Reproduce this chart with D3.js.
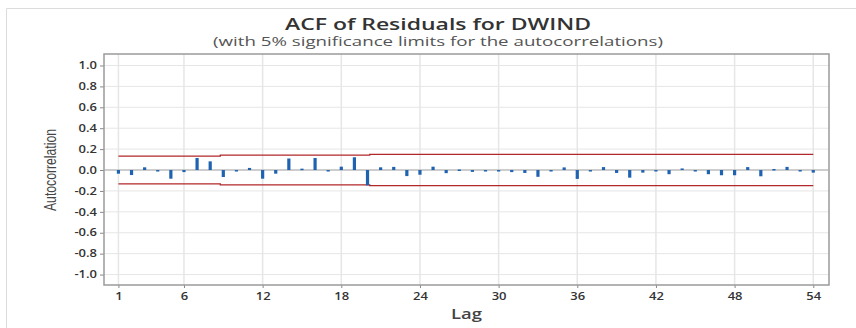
<!DOCTYPE html>
<html>
<head>
<meta charset="utf-8">
<script src="https://cdn.jsdelivr.net/npm/d3@7"></script>
<style>
  body { margin: 0; background: #fff; }
  svg { display: block; font-family: "Open Sans", sans-serif; }
</style>
</head>
<body>
<script>
// Chart size and plot area
const width = 856;
const height = 328;
const margin = { top: 54, right: 27, bottom: 43, left: 104 };

// Data: autocorrelation of residuals per lag
const lags = d3.range(1, 55);
const acf = [
  -0.035, -0.048, 0.026, -0.005, -0.083, -0.020, 0.115, 0.083, -0.067, 0.000,
  0.020, -0.083, -0.035, 0.110, 0.013, 0.115, -0.005, 0.032, 0.122, -0.147,
  0.026, 0.030, -0.058, -0.045, 0.032, -0.030, 0.005, -0.018, -0.012, -0.003,
  -0.020, -0.028, -0.065, -0.003, 0.025, -0.085, 0.000, 0.028, -0.028, -0.073,
  -0.025, -0.005, -0.040, 0.015, -0.010, -0.040, -0.050, -0.050, 0.028, -0.060,
  0.010, 0.030, -0.010, -0.025
];
// 5% significance limits (step segments: from lag, to lag, limit)
const limitFrom = [1, 8.77, 20.17];
const limitTo = [8.77, 20.17, 54];
const limitVal = [0.133, 0.142, 0.150];
const xTicks = [1, 6, 12, 18, 24, 30, 36, 42, 48, 54];
const yTicks = [-1.0, -0.8, -0.6, -0.4, -0.2, 0.0, 0.2, 0.4, 0.6, 0.8, 1.0];

const svg = d3.select("body").append("svg")
    .attr("width", width)
    .attr("height", height);

// Outer chart border
svg.append("path")
    .attr("d", `M6.5,${height} V8.5 H${width}`)
    .attr("fill", "none")
    .attr("stroke", "#dcdcdc");

// Scales
const x = d3.scaleLinear()
    .domain([-0.1, 55.2])
    .range([margin.left, width - margin.right]);
const y = d3.scaleLinear()
    .domain([-1.1, 1.11])
    .range([height - margin.bottom, margin.top]);

// Grid lines
svg.append("g").selectAll("line")
    .data(yTicks)
    .join("line")
    .attr("x1", margin.left).attr("x2", width - margin.right)
    .attr("y1", d => y(d)).attr("y2", d => y(d))
    .attr("stroke", "#e6e6e6");
svg.append("g").selectAll("line")
    .data(xTicks)
    .join("line")
    .attr("x1", d => x(d)).attr("x2", d => x(d))
    .attr("y1", margin.top).attr("y2", height - margin.bottom)
    .attr("stroke", "#e6e6e6")
    .attr("stroke-width", 1.5);

// Axes
const xAxis = d3.axisBottom(x).tickValues(xTicks).tickSize(3).tickPadding(5);
const yAxis = d3.axisLeft(y).tickValues(yTicks).tickSize(4).tickPadding(3)
    .tickFormat(d3.format(".1f"));

const gx = svg.append("g")
    .attr("transform", `translate(0,${height - margin.bottom})`)
    .call(xAxis)
    .call(g => g.select(".domain").remove());
const gy = svg.append("g")
    .attr("transform", `translate(${margin.left},0)`)
    .call(yAxis)
    .call(g => g.select(".domain").remove());

svg.selectAll(".tick text")
    .attr("font-family", "'Open Sans', sans-serif")
    .attr("font-size", 10)
    .attr("font-weight", 600)
    .attr("fill", "#333")
    .text(function(d) { return d3.select(this).text().replace("−", "-"); });
// the graph is stretched horizontally, so widen the tick labels too
gx.selectAll(".tick text").attr("transform", "scale(1.3,1)");
gy.selectAll(".tick text").attr("x", 0).attr("transform", "translate(-7,0) scale(1.3,1)");
svg.selectAll(".tick line").attr("stroke", "#888");

// Plot frame
svg.append("rect")
    .attr("x", margin.left)
    .attr("y", margin.top)
    .attr("width", width - margin.left - margin.right)
    .attr("height", height - margin.top - margin.bottom)
    .attr("fill", "none")
    .attr("stroke", "#9a9a9a")
    .attr("stroke-width", 1.5);

// Zero line
svg.append("line")
    .attr("x1", margin.left).attr("x2", width - margin.right)
    .attr("y1", y(0)).attr("y2", y(0))
    .attr("stroke", "#a8a8a8")
    .attr("stroke-width", 1.2);

// Significance limits
const limits = limitVal.map((v, i) => ({ from: limitFrom[i], to: limitTo[i], v }));
[1, -1].forEach(sign => {
  const pts = [];
  limits.forEach(s => {
    pts.push([s.from, sign * s.v]);
    pts.push([s.to, sign * s.v]);
  });
  svg.append("path")
      .attr("d", d3.line().x(d => x(d[0])).y(d => y(d[1]))(pts))
      .attr("fill", "none")
      .attr("stroke", "#b2282a")
      .attr("stroke-width", 1.3);
});

// ACF bars
svg.append("g").selectAll("rect")
    .data(lags)
    .join("rect")
    .attr("x", d => x(d) - 1.6)
    .attr("width", 3.2)
    .attr("y", (d, i) => y(Math.max(0, acf[i])))
    .attr("height", (d, i) => Math.max(1.5, Math.abs(y(acf[i]) - y(0))))
    .attr("fill", "#1f63b0");

// Titles (centred on the whole graph, text is horizontally stretched)
const titleX = 438;
svg.append("text")
    .attr("x", titleX)
    .attr("y", 30)
    .attr("text-anchor", "middle")
    .attr("font-size", 16)
    .attr("font-weight", 600)
    .attr("fill", "#333")
    .attr("textLength", 306)
    .attr("lengthAdjust", "spacingAndGlyphs")
    .text("ACF of Residuals for DWIND");
svg.append("text")
    .attr("x", titleX)
    .attr("y", 46)
    .attr("text-anchor", "middle")
    .attr("font-size", 12.5)
    .attr("fill", "#555")
    .attr("textLength", 450)
    .attr("lengthAdjust", "spacingAndGlyphs")
    .text("(with 5% significance limits for the autocorrelations)");

// Axis labels
svg.append("text")
    .attr("x", (margin.left + width - margin.right) / 2)
    .attr("y", 319)
    .attr("text-anchor", "middle")
    .attr("font-size", 13.5)
    .attr("font-weight", 600)
    .attr("fill", "#444")
    .attr("textLength", 31)
    .attr("lengthAdjust", "spacingAndGlyphs")
    .text("Lag");
svg.append("text")
    .attr("transform", `translate(56,${y(0)}) rotate(-90)`)
    .attr("text-anchor", "middle")
    .attr("font-family", "'Liberation Sans Narrow', 'Liberation Sans', sans-serif")
    .attr("font-size", 17)
    .attr("fill", "#444")
    .attr("textLength", 82)
    .attr("lengthAdjust", "spacingAndGlyphs")
    .text("Autocorrelation");
</script>
</body>
</html>
